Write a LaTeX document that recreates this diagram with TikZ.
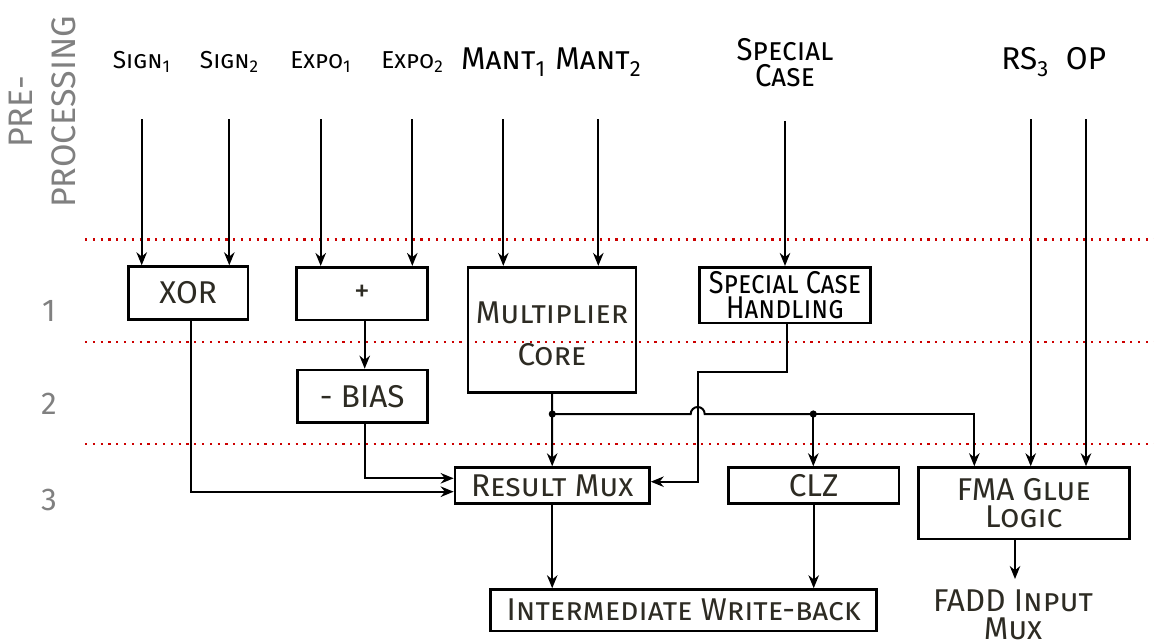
\documentclass[tikz,border=0pt]{standalone}
\usepackage{fontspec}
\setmainfont{Fira Sans}
\usetikzlibrary{arrows.meta}
\definecolor{txt}{RGB}{45,43,35}
\definecolor{lab}{RGB}{128,128,128}
\definecolor{dotred}{RGB}{204,0,0}
\newcommand\bigf{\fontsize{31.5}{36}\selectfont}
\newcommand\smallf{\fontsize{24.5}{28}\selectfont}
\begin{document}
\begin{tikzpicture}[x=1pt,y=-1pt,
  box/.style={draw=black, line width=2.8pt, inner sep=0pt, text=txt, font=\bigf, align=center},
  toplab/.style={inner sep=0pt, anchor=base, text=black},
  graylab/.style={inner sep=0pt, text=lab, font=\bigf},
  conn/.style={line width=2pt, draw=black},
  arr/.style={conn, -{Stealth[length=13pt, width=10.5pt]}},
  stage/.style={draw=dotred, line width=2.2pt, dash pattern=on 2.2pt off 5.6pt},
  jdot/.style={fill=black}]
\useasboundingbox (0,0) rectangle (1154,642);

% stage separators
\coordinate (s1a) at (85,239.5); \coordinate (s1b) at (1154,239.5);
\coordinate (s2a) at (85,342.3); \coordinate (s2b) at (1154,342.3);
\coordinate (s3a) at (85,444.3); \coordinate (s3b) at (1154,444.3);
\draw[stage] (s1a) -- (s1b);
\draw[stage] (s2a) -- (s2b);
\draw[stage] (s3a) -- (s3b);

% stage labels
\node[graylab, rotate=90, align=center, font=\fontsize{34}{43}\selectfont] (pre) at (42,112) {PRE-\\PROCESSING};
\node[graylab] (n1) at (49,311) {1};
\node[graylab] (n2) at (49,404) {2};
\node[graylab] (n3) at (49,500) {3};

% top labels
\node[toplab, font=\smallf] (sign1) at (141.7,68.5) {\textsc{Sign}\textsubscript{1}};
\node[toplab, font=\smallf] (sign2) at (229.3,68.5) {\textsc{Sign}\textsubscript{2}};
\node[toplab, font=\smallf] (expo1) at (320.7,68.5) {\textsc{Expo}\textsubscript{1}};
\node[toplab, font=\smallf] (expo2) at (412.3,68.5) {\textsc{Expo}\textsubscript{2}};
\node[toplab, font=\bigf] (mant1) at (503.3,70) {\textsc{Mant}\textsubscript{1}};
\node[toplab, font=\bigf] (mant2) at (598.3,70) {\textsc{Mant}\textsubscript{2}};
\node[inner sep=0pt, anchor=north, align=center, font=\fontsize{31.5}{26}\selectfont] (special) at (785,38) {\scalebox{0.93}[1]{\textsc{Special}}\\\scalebox{0.93}[1]{\textsc{Case}}};
\node[toplab, font=\bigf] (rs3) at (1025,70) {RS\textsubscript{3}};
\node[toplab, font=\bigf] (op) at (1086,70) {OP};

% blocks
\node[box, minimum width=119.7pt, minimum height=52.6pt] (xor) at (188.2,293) {XOR};
\node[box, minimum width=130.6pt, minimum height=52.7pt] (plus) at (362,293.7) {+};
\node[box, minimum width=130pt, minimum height=52.3pt] (bias) at (362.3,396.2) {- BIAS};
\node[box, minimum width=168pt, minimum height=125.4pt] (mult) at (552,330) {};
\node[inner sep=0pt, text=txt, align=center, font=\fontsize{31.5}{42}\selectfont] (multtext) at (552,333.5) {\textsc{Multiplier}\\\textsc{Core}};
\node[box, text=black, minimum width=171.4pt, minimum height=55.7pt, font=\fontsize{31.5}{25.5}\selectfont] (spec) at (785,295.2) {\scalebox{0.86}[1]{\textsc{Special Case}}\\\scalebox{0.86}[1]{\textsc{Handling}}};
\node[box, minimum width=194.3pt, minimum height=35.6pt] (rmux) at (552.2,485.5) {\textsc{Result Mux}};
\node[box, minimum width=170.7pt, minimum height=35.6pt] (clz) at (813.7,485.5) {CLZ};
\node[box, minimum width=211pt, minimum height=71.3pt, font=\fontsize{31.5}{27.5}\selectfont] (fma) at (1023.8,503.3) {FMA \textsc{Glue}\\\textsc{Logic}};
\node[box, minimum width=386pt, minimum height=41.3pt] (iw) at (683.7,610.3) {\textsc{Intermediate Write-back}};
\node[inner sep=0pt, anchor=north, align=center, text=txt, font=\fontsize{31.5}{27.5}\selectfont] (fadd) at (1013,590) {FADD \textsc{Input}\\\textsc{Mux}};

% inputs
\draw[arr] ([yshift=-50.5pt]sign1.base) -- (sign1 |- xor.north);
\draw[arr] ([yshift=-50.5pt]sign2.base) -- (sign2 |- xor.north);
\draw[arr] ([yshift=-50.5pt]expo1.base) -- (expo1 |- plus.north);
\draw[arr] ([yshift=-50.5pt]expo2.base) -- (expo2 |- plus.north);
\draw[arr] ([yshift=-49pt]mant1.base) -- (mant1 |- mult.north);
\draw[arr] ([yshift=-49pt]mant2.base) -- (mant2 |- mult.north);
\draw[arr] ([yshift=-34pt]special.south) -- (special |- spec.north);
\coordinate (rsx) at (1030.7,119);
\draw[arr] (rsx) -- (rsx |- fma.north);
\draw[arr] ([yshift=-49pt]op.base) -- (op |- fma.north);

% stage 1 -> 2/3
\coordinate (xorout) at (190.7,319.3);
\draw[arr] (xorout) |- ([yshift=-6.2pt]rmux.west);
\coordinate (plusout) at (364.7,320);
\draw[arr] (plusout) -- (plusout |- bias.north);
\coordinate (biasout) at (364.7,422.3);
\draw[arr] (biasout) |- ([yshift=7.2pt]rmux.west);

% multiplier bus
\coordinate (j1) at (552.3,414);
\coordinate (j2) at (813.3,414);
\coordinate (j3) at (974.3,414);
\coordinate (hopa) at (690.7,414);
\draw[arr] (mult.south) -- (rmux.north);
\draw[conn] (j1) -- (hopa) arc[start angle=180, end angle=360, radius=7] -- (j2);
\draw[arr] (j2) -- (j3) -- (j3 |- fma.north);
\draw[arr] (j2) -- (j2 |- clz.north);
\fill[jdot] (j1) circle[radius=3.6pt];
\fill[jdot] (j2) circle[radius=3.6pt];

% special case path
\coordinate (scout) at (786.7,323);
\coordinate (k) at (697.7,371.7);
\draw[arr] (scout) |- (k) |- ([yshift=3.8pt]rmux.east);

% to write-back
\draw[arr] (rmux.south) -- (rmux.south |- iw.north);
\draw[arr] (clz.south) -- (clz.south |- iw.north);
\coordinate (fmaout) at (1015,539);
\draw[arr] (fmaout) -- ([yshift=11pt]fmaout |- fadd.north);
\end{tikzpicture}
\end{document}
